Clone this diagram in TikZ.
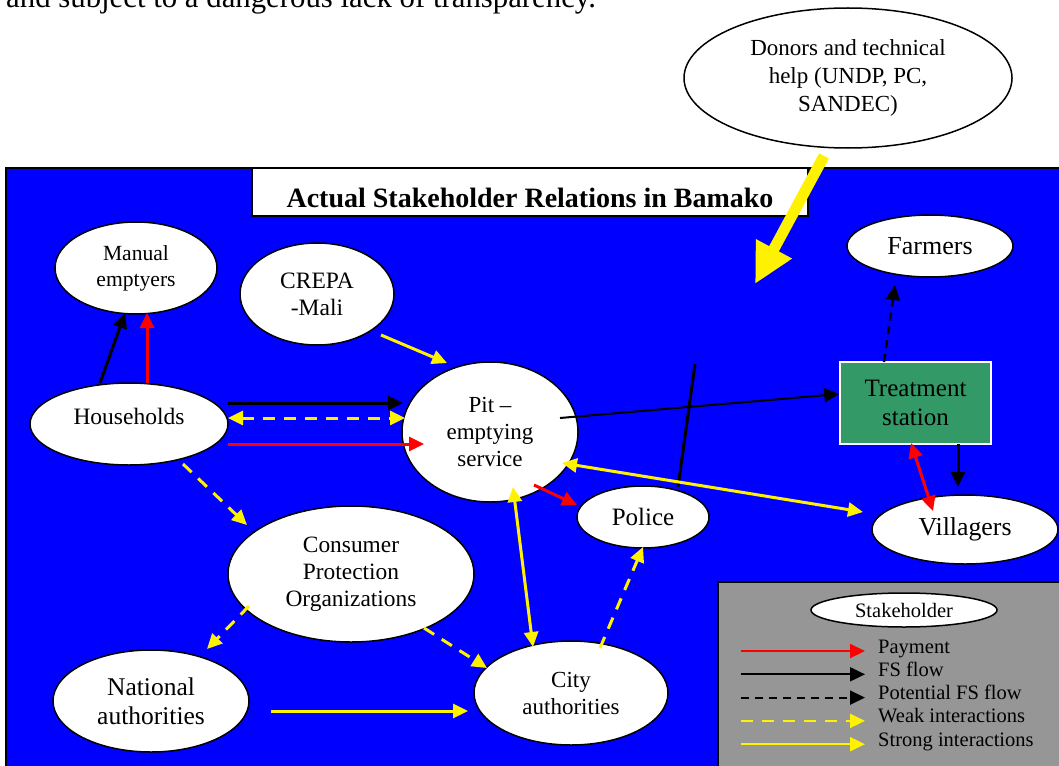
\documentclass[tikz,border=0pt]{standalone}
\usepackage{fontspec}
\setmainfont{Liberation Serif}
\usetikzlibrary{shapes.geometric,arrows.meta}
\definecolor{seagreen}{HTML}{339966}
\definecolor{legendgray}{HTML}{969696}
\tikzset{
	every stakeholder/.style={
		ellipse,
		draw,
		fill=white,
		line width=1.5pt,
		inner sep=0pt,
		align=center
	},
	every link/.style={line width=3pt, ->},
	payment/.style={every link, red},
	fs flow/.style={every link, black},
	potential flow/.style={every link, black, dash pattern=on 8pt off 6pt},
	weak link/.style={every link, yellow, dash pattern=on 12pt off 9pt},
	strong link/.style={every link, yellow},
}

\begin{document}
\begin{tikzpicture}[x=1pt, y=-1pt, >={Triangle[length=15pt,width=14pt]}]
\useasboundingbox (0,0) rectangle (1059,765);

\node [anchor=base west, inner sep=0pt, font=\fontsize{30.8}{36}\selectfont] (intro) at (6,7.5) {and subject to a dangerous lack of transparency.};

\draw [fill=blue, line width=2pt] (6,168) rectangle (1070,780);

\node [draw, fill=white, line width=2pt, minimum width=556pt, minimum height=48pt, text height=30pt, text depth=0pt, inner sep=0pt, font=\bfseries\fontsize{28}{32}\selectfont] (title) at (530,192) {Actual Stakeholder Relations in Bamako};

\node [every stakeholder, minimum width=328pt, minimum height=140pt, font=\fontsize{23}{28}\selectfont] (donors) at (848,78) {Donors and technical\\help (UNDP, PC,\\SANDEC)};
\node [every stakeholder, minimum width=162pt, minimum height=92pt, font=\fontsize{21.6}{26}\selectfont] (manual-emptyers) at (136,268) {Manual\\emptyers};
\node [every stakeholder, minimum width=154pt, minimum height=102pt, font=\fontsize{23.5}{27}\selectfont] (crepa) at (317,294) {CREPA\\-Mali};
\node [every stakeholder, minimum width=198pt, minimum height=82pt, text height=0pt, text depth=0pt, font=\fontsize{23.5}{28}\selectfont] (households) at (129,424) {Households};
\node [every stakeholder, minimum width=176pt, minimum height=140pt, font=\fontsize{23}{27}\selectfont] (pit-service) at (490,432) {Pit --\\emptying\\service};
\node [every stakeholder, minimum width=132pt, minimum height=62pt, font=\fontsize{25}{29}\selectfont] (police) at (643,517) {Police};
\node [every stakeholder, minimum width=166pt, minimum height=62pt, font=\fontsize{26}{30}\selectfont] (farmers) at (930,246) {Farmers};
\node [draw=white, fill=seagreen, line width=1.5pt, minimum width=151pt, minimum height=82pt, inner sep=0pt, align=center, font=\fontsize{25}{29}\selectfont] (treatment) at (915.5,403) {Treatment\\station};
\node [every stakeholder, minimum width=186pt, minimum height=69pt, font=\fontsize{25.8}{30}\selectfont] (villagers) at (965,529.5) {Villagers};
\node [every stakeholder, minimum width=246pt, minimum height=136pt, font=\fontsize{23.4}{27}\selectfont] (consumer-org) at (351,574) {Consumer\\Protection\\Organizations};
\node [every stakeholder, minimum width=196pt, minimum height=102pt, font=\fontsize{25.5}{29}\selectfont] (national) at (151,701) {National\\authorities};
\node [every stakeholder, minimum width=194pt, minimum height=104pt, font=\fontsize{23}{27}\selectfont] (city) at (571,693) {City\\authorities};

\coordinate (donor-target) at (755,284);
\coordinate (police-top) at (695,364);

\draw [yellow, line width=11pt, -{Triangle[length=40pt,width=38pt]}] ([shift={(-24,78)}]donors.center) -- (donor-target);

\draw [fs flow] ([shift={(-29,-41)}]households.center) -- ([shift={(-11,45)}]manual-emptyers.center);
\draw [payment] ([shift={(18,-41)}]households.center) -- ([shift={(11,45)}]manual-emptyers.center);
\draw [fs flow] ([shift={(99,-21)}]households.center) -- ([shift={(-87,-29)}]pit-service.center);
\draw [weak link, <->] ([shift={(99,-6)}]households.center) -- ([shift={(-85,-14)}]pit-service.center);
\draw [payment] ([shift={(99,20)}]households.center) -- ([shift={(-66,12)}]pit-service.center);
\draw [strong link] ([shift={(64,41)}]crepa.center) -- ([shift={(-43,-69)}]pit-service.center);
\draw [fs flow, line width=2pt] ([shift={(70,-14)}]pit-service.center) -- ([shift={(0,-9)}]treatment.west);
\draw [line width=3pt] ([shift={(35,-30)}]police.center) -- (police-top);
\draw [potential flow, line width=2.5pt] ([shift={(-31.5,-41)}]treatment.center) -- ([shift={(-35,39)}]farmers.center);
\draw [fs flow] ([shift={(42.5,41)}]treatment.center) -- ([shift={(-7,-42.5)}]villagers.center);
\draw [payment, <->] ([shift={(-4.5,40)}]treatment.center) -- ([shift={(-32,-18.5)}]villagers.center);
\draw [strong link, <->] ([shift={(72,31)}]pit-service.center) -- ([shift={(-102,-17.5)}]villagers.center);
\draw [payment] ([shift={(44,53)}]pit-service.center) -- ([shift={(-66,-12)}]police.center);
\draw [strong link, <->] ([shift={(23,55)}]pit-service.center) -- ([shift={(-38,-46)}]city.center);
\draw [weak link] ([shift={(29,-45)}]city.center) -- ([shift={(0,30)}]police.center);
\draw [weak link] ([shift={(54,40)}]households.center) -- ([shift={(-104,-49)}]consumer-org.center);
\draw [weak link] ([shift={(-102,32)}]consumer-org.center) -- ([shift={(56,-52)}]national.center);
\draw [weak link] ([shift={(73,54)}]consumer-org.center) -- ([shift={(-84,-25)}]city.center);
\draw [strong link] ([shift={(120,10)}]national.center) -- ([shift={(-103,18)}]city.center);

\draw [fill=legendgray, line width=1.5pt] (718,582) rectangle (1070,780);
\node [every stakeholder, minimum width=186pt, minimum height=34pt, font=\fontsize{20.5}{24}\selectfont] (key-stakeholder) at (904,610) {Stakeholder};

\foreach \kind/\txt [count=\i] in {payment/Payment, fs flow/FS flow, potential flow/Potential FS flow, weak link/Weak interactions, strong link/Strong interactions} {
	\node [anchor=base west, inner sep=0pt, font=\fontsize{20.5}{24}\selectfont] (key-\i) at (878,{629.7+23.3*\i}) {\txt};
	\draw [\kind, line width=2pt] ([shift={(-137,-2)}]key-\i.base west) -- ([shift={(-13,-2)}]key-\i.base west);
}

\end{tikzpicture}
\end{document}
